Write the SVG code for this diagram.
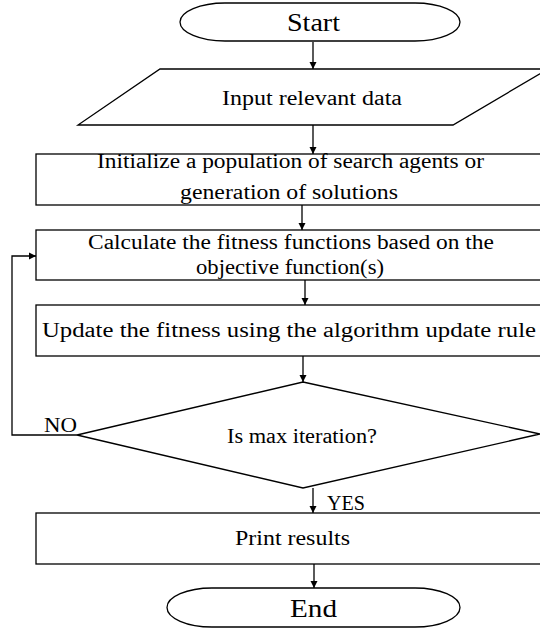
<svg xmlns="http://www.w3.org/2000/svg" width="540" height="630" viewBox="0 0 540 630">
<style>
.s{fill:#fff;stroke:#000;stroke-width:1.3}
.t{font-family:"Liberation Serif","Times New Roman",serif;font-size:20.5px;fill:#000;text-anchor:start}
.b{font-size:25px}
.c{fill:none;stroke:#000;stroke-width:1.3}
</style>
<defs>
<marker id="a" markerWidth="8" markerHeight="8" refX="7" refY="4" orient="auto" markerUnits="userSpaceOnUse">
<path d="M0,0.5 L7,4 L0,7.5 Z" fill="#000"/>
</marker>
</defs>
<rect width="540" height="630" fill="#fff"/>
<g id="connectors">
<line class="c" x1="313" y1="42" x2="313" y2="69" marker-end="url(#a)"/>
<line class="c" x1="313" y1="125" x2="313" y2="154" marker-end="url(#a)"/>
<line class="c" x1="302" y1="205" x2="302" y2="230" marker-end="url(#a)"/>
<line class="c" x1="305" y1="280" x2="305" y2="305" marker-end="url(#a)"/>
<line class="c" x1="303" y1="356" x2="303" y2="382" marker-end="url(#a)"/>
<line class="c" x1="313" y1="488" x2="313" y2="513" marker-end="url(#a)"/>
<line class="c" x1="314" y1="564" x2="314" y2="588" marker-end="url(#a)"/>
<polyline class="c" points="77,435 12,435 12,256 36,256" marker-end="url(#a)"/>
<text class="t" x="44" y="432" textLength="33" lengthAdjust="spacingAndGlyphs">NO</text>
<text class="t" x="327" y="510" textLength="38" lengthAdjust="spacingAndGlyphs">YES</text>
</g>
<g id="start">
<rect class="s" x="180" y="3" width="280" height="38" rx="45" ry="19"/>
<text class="t b" x="287" y="31" textLength="53" lengthAdjust="spacingAndGlyphs">Start</text>
</g>
<g id="input">
<polygon class="s" points="160,69 548,69 453,125 78,125"/>
<text class="t" x="222" y="105" textLength="180" lengthAdjust="spacingAndGlyphs">Input relevant data</text>
</g>
<g id="init">
<rect class="s" x="36" y="154" width="512" height="51"/>
<text class="t" x="97" y="168" textLength="387" lengthAdjust="spacingAndGlyphs">Initialize a population of search agents or</text>
<text class="t" x="180" y="199" textLength="218" lengthAdjust="spacingAndGlyphs">generation of solutions</text>
</g>
<g id="calc">
<rect class="s" x="36" y="230" width="512" height="50"/>
<text class="t" x="88" y="249" textLength="406" lengthAdjust="spacingAndGlyphs">Calculate the fitness functions based on the</text>
<text class="t" x="196" y="274" textLength="188" lengthAdjust="spacingAndGlyphs">objective function(s)</text>
</g>
<g id="update">
<rect class="s" x="36" y="305" width="512" height="51"/>
<text class="t" x="42" y="337" textLength="494" lengthAdjust="spacingAndGlyphs">Update the fitness using the algorithm update rule</text>
</g>
<g id="decision">
<polygon class="s" points="303,382 540,434 303,488 77,435"/>
<text class="t" x="227" y="443" textLength="150" lengthAdjust="spacingAndGlyphs">Is max iteration?</text>
</g>
<g id="print">
<rect class="s" x="36" y="513" width="512" height="51"/>
<text class="t" x="235" y="545" textLength="115" lengthAdjust="spacingAndGlyphs">Print results</text>
</g>
<g id="end">
<rect class="s" x="167" y="588" width="293" height="39" rx="45" ry="19.5"/>
<text class="t b" x="290" y="617" textLength="47" lengthAdjust="spacingAndGlyphs">End</text>
</g>
</svg>
